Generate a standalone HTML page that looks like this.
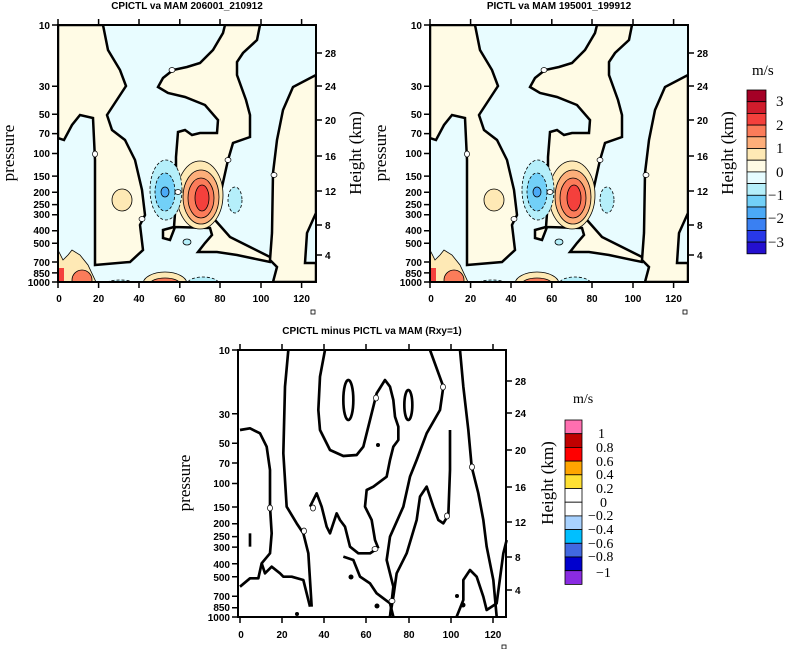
<!DOCTYPE html>
<html><head><meta charset="utf-8"><style>
html,body{margin:0;padding:0;background:#fff;}
svg{display:block;}
.t{font-family:"Liberation Sans",sans-serif;font-weight:bold;font-size:10px;fill:#000;}
.s{font-family:"Liberation Serif",serif;font-size:17px;fill:#000;}
.l{font-family:"Liberation Serif",serif;font-size:15px;fill:#000;}
</style></head><body>
<svg width="791" height="649" viewBox="0 0 791 649" xmlns="http://www.w3.org/2000/svg">
<defs>
<clipPath id="cp"><rect x="58" y="25" width="258" height="257"/></clipPath>
<g id="panel">
 <g clip-path="url(#cp)">
  <rect x="58" y="25" width="258" height="257" fill="#e8fcff"/>
  <polygon fill="#fffbe5" stroke="#000" stroke-width="2.5" points="58,25 103,25 108,50 120,70 126,86 107,115 112,130 125,140 135,160 142,190 145,215 140,225 143,250 130,262 95,265 95,160 93,118 80,115 72,125 64,140 58,138"/>
  <polygon fill="#fffbe5" stroke="#000" stroke-width="2.5" points="225,25 260,25 257,40 243,53 237,62 237,75 246,100 250,115 250,137 233,143 228,160 222,187 217,210 215,220 230,237 250,247 272,258 270,262 237,255 217,252 198,252 205,243 212,235 210,228 175,227 170,240 163,238 163,230 174,227 176,200 176,157 178,132 185,130 192,135 200,133 217,133 218,120 205,105 185,97 168,93 158,87 163,78 173,70 187,67 200,63 213,50 223,33"/>
  <polygon fill="#fffbe5" stroke="#000" stroke-width="2.5" points="316,75 293,87 283,110 277,140 273,173 272,233 270,260 277,267 273,282 316,282 316,263 305,263 307,233 316,213"/>
  <ellipse cx="122" cy="200" rx="10" ry="11" fill="#fee9b5" stroke="#000" stroke-width="0.8"/>
  <ellipse cx="200" cy="195" rx="23" ry="34" fill="#fee9b5" stroke="#000" stroke-width="0.8"/>
  <ellipse cx="201" cy="197" rx="18" ry="27" fill="#fdae7a" stroke="#000" stroke-width="0.8"/>
  <ellipse cx="201" cy="198" rx="13" ry="20" fill="#fb7c5a" stroke="#000" stroke-width="0.8"/>
  <ellipse cx="202" cy="198" rx="7" ry="13" fill="#f4403c" stroke="#000" stroke-width="0.8"/>
  <ellipse cx="166" cy="190" rx="16" ry="30" fill="#b5effa" stroke="#000" stroke-width="0.8" stroke-dasharray="3,2"/>
  <ellipse cx="165" cy="192" rx="10" ry="19" fill="#72d0f8" stroke="#000" stroke-width="0.8" stroke-dasharray="3,2"/>
  <ellipse cx="165" cy="192" rx="4" ry="5" fill="#4ba9f6" stroke="#000" stroke-width="0.8"/>
  <ellipse cx="235" cy="200" rx="7" ry="13" fill="#b5effa" stroke="#000" stroke-width="0.8" stroke-dasharray="3,2"/>
  <ellipse cx="187" cy="242" rx="4" ry="3" fill="#b5effa" stroke="#000" stroke-width="0.8"/>
  <ellipse cx="165" cy="284" rx="22" ry="12" fill="#fee9b5" stroke="#000" stroke-width="0.8"/>
  <ellipse cx="165" cy="284" rx="15" ry="6" fill="#fb7c5a" stroke="#000" stroke-width="0.8"/>
  <ellipse cx="203" cy="284" rx="16" ry="7" fill="#b5effa" stroke="#000" stroke-width="0.8" stroke-dasharray="3,2"/>
  <ellipse cx="203" cy="284" rx="8" ry="3" fill="#4ba9f6"/>
  <ellipse cx="120" cy="284" rx="15" ry="4" fill="#b5effa" stroke="#000" stroke-width="0.8" stroke-dasharray="3,2"/>
  <path d="M58,250 L63,260 L68,255 L72,250 L80,255 L88,265 L96,282 L58,282 Z" fill="#fee9b5" stroke="#000" stroke-width="0.8"/>
  <ellipse cx="82" cy="280" rx="10" ry="10" fill="#fb7c5a" stroke="#000" stroke-width="0.8"/>
  <rect x="59" y="268" width="5" height="14" fill="#f4403c"/>
 </g>
 <rect x="58" y="25" width="258" height="257" fill="none" stroke="#000" stroke-width="2"/>
 <g fill="#fff" stroke="#000" stroke-width="0.7">
  <ellipse cx="95" cy="154" rx="2.5" ry="3"/><ellipse cx="172" cy="70" rx="3" ry="2.5"/>
  <ellipse cx="228" cy="160" rx="3" ry="2.5"/><ellipse cx="274" cy="175" rx="3" ry="2.5"/>
  <ellipse cx="178" cy="192" rx="3" ry="2.5"/><ellipse cx="142" cy="219" rx="3" ry="2.5"/>
 </g>
 <g stroke="#000" stroke-width="1.5">
  <path d="M52,25h6M52,86.3h6M52,114.3h6M52,133.6h6M52,153.5h6M52,176.1h6M52,192.2h6M52,204.6h6M52,214.7h6M52,230.8h6M52,243.3h6M52,262h6M52,272.9h6M52,282h6"/>
  <path d="M316,53h6M316,86h6M316,120h6M316,156h6M316,191h6M316,225h6M316,255h6"/>
  <path d="M58,282v6M98.6,282v6M139,282v6M179.8,282v6M220,282v6M261,282v6M301.6,282v6"/>
  <path d="M58,25v-6M98.6,25v-6M139,25v-6M179.8,25v-6M220,25v-6M261,25v-6M301.6,25v-6"/>
 </g>
 <g class="t" text-anchor="end">
  <text x="50" y="29">10</text><text x="50" y="90">30</text><text x="50" y="118">50</text><text x="50" y="137">70</text><text x="50" y="157">100</text><text x="50" y="180">150</text><text x="50" y="196">200</text><text x="50" y="208">250</text><text x="50" y="218">300</text><text x="50" y="234">400</text><text x="50" y="247">500</text><text x="50" y="266">700</text><text x="50" y="277">850</text><text x="50" y="286">1000</text>
 </g>
 <g class="t">
  <text x="325" y="57">28</text><text x="325" y="90">24</text><text x="325" y="124">20</text><text x="325" y="160">16</text><text x="325" y="195">12</text><text x="325" y="229">8</text><text x="325" y="259">4</text>
 </g>
 <g class="t" text-anchor="middle">
  <text x="59" y="302">0</text><text x="98.6" y="302">20</text><text x="139" y="302">40</text><text x="179.8" y="302">60</text><text x="220" y="302">80</text><text x="261" y="302">100</text><text x="301.6" y="302">120</text>
 </g>
 <rect x="311" y="310" width="4" height="4" fill="none" stroke="#000" stroke-width="0.8"/>
 <text class="s" transform="translate(361,153) rotate(-90)" text-anchor="middle">Height (km)</text>
</g>
</defs>

<use href="#panel"/>
<use href="#panel" transform="translate(372,0)"/>
<text class="s" transform="translate(14,153) rotate(-90)" text-anchor="middle">pressure</text>
<text class="s" transform="translate(386,153) rotate(-90)" text-anchor="middle">pressure</text>
<text class="t" x="187" y="9" text-anchor="middle">CPICTL va MAM 206001_210912</text>
<text class="t" x="559" y="9" text-anchor="middle">PICTL va MAM 195001_199912</text>

<g stroke="#000" stroke-width="0.8">
 <rect x="747" y="90" width="19" height="11.7" fill="#a50026"/>
 <rect x="747" y="101.7" width="19" height="11.7" fill="#d01c2c"/>
 <rect x="747" y="113.4" width="19" height="11.7" fill="#f4403c"/>
 <rect x="747" y="125.1" width="19" height="11.7" fill="#fb7c5a"/>
 <rect x="747" y="136.8" width="19" height="11.7" fill="#fdae7a"/>
 <rect x="747" y="148.5" width="19" height="11.7" fill="#fee9b5"/>
 <rect x="747" y="160.2" width="19" height="11.7" fill="#fffbe5"/>
 <rect x="747" y="171.9" width="19" height="11.7" fill="#e6fcff"/>
 <rect x="747" y="183.6" width="19" height="11.7" fill="#b5effa"/>
 <rect x="747" y="195.3" width="19" height="11.7" fill="#72d0f8"/>
 <rect x="747" y="207" width="19" height="11.7" fill="#4ba9f6"/>
 <rect x="747" y="218.7" width="19" height="11.7" fill="#3a80f2"/>
 <rect x="747" y="230.4" width="19" height="11.7" fill="#2838e8"/>
 <rect x="747" y="242.1" width="19" height="11.7" fill="#2410d0"/>
</g>
<g class="l">
 <text x="752" y="75">m/s</text>
 <text x="776" y="106">3</text><text x="776" y="130">2</text><text x="776" y="153">1</text><text x="776" y="177">0</text>
 <text x="768" y="200">−1</text><text x="768" y="223">−2</text><text x="768" y="247">−3</text>
</g>

<text class="t" x="372" y="334" text-anchor="middle">CPICTL minus PICTL va MAM (Rxy=1)</text>
<rect x="238" y="350" width="268" height="267" fill="#fff" stroke="#000" stroke-width="2"/>
<g transform="translate(230,320) scale(0.33333)" fill="none" stroke="#000" stroke-width="8" stroke-linejoin="round">
 <polyline points="175,90 165,200 160,400 170,560 200,610 220,640 235,700 240,780 245,860"/>
 <polyline points="285,90 270,170 265,270 270,330 300,390 340,408 380,405 400,380 420,300 440,220 465,180 480,200 490,240 495,290 505,320 505,360 490,380 480,420 470,470 430,500 410,510 405,560 425,600 435,660 445,685"/>
 <polyline points="30,330 60,325 90,340 110,380 120,450 120,560 125,640 120,700 95,730 85,775 60,775 30,800"/>
 <polyline points="95,730 105,760 125,740 150,760 160,770 185,770 220,780 240,860"/>
 <polyline points="240,560 260,520 275,560 290,620 300,640 320,580 330,600 345,620 360,680 385,700 420,700 435,690"/>
 <polyline points="600,90 640,200 630,270 590,340 560,420 540,470 520,560 480,650 470,720 490,800 480,890"/>
 <polyline points="690,90 700,200 715,330 725,440 745,520 760,600 770,680 790,780 800,890"/>
 <polyline points="660,330 660,450 655,585 640,610 625,600 610,560 590,500 570,530 560,600 530,700 500,760 490,830 480,890"/>
 <polyline points="680,890 700,840 700,780 720,750 740,770 760,830 770,870 800,850 820,700 830,660"/>
 <polyline points="340,710 370,720 390,770 420,790 440,820 480,850 490,890"/>
 <ellipse cx="355" cy="240" rx="15" ry="60"/>
 <ellipse cx="535" cy="255" rx="12" ry="45"/>
 <line x1="60" y1="640" x2="60" y2="680"/>
</g>
<g fill="#000"><circle cx="351" cy="577" r="2.5"/><circle cx="377" cy="606" r="2.5"/><circle cx="457" cy="596" r="2"/><circle cx="463" cy="605" r="2.5"/><circle cx="378" cy="445" r="2"/><circle cx="297" cy="614" r="2"/></g>
<g fill="#fff" stroke="#000" stroke-width="0.7">
 <ellipse cx="270" cy="508" rx="2.5" ry="3"/><ellipse cx="304" cy="531" rx="2.5" ry="3"/><ellipse cx="313" cy="508" rx="2.5" ry="3"/><ellipse cx="375" cy="549" rx="3" ry="2.5"/><ellipse cx="376" cy="398" rx="2.5" ry="3"/><ellipse cx="392" cy="601" rx="3" ry="2.5"/><ellipse cx="447" cy="516" rx="2.5" ry="3"/><ellipse cx="443" cy="387" rx="2.5" ry="3"/><ellipse cx="472" cy="467" rx="2.5" ry="3"/>
</g>
<g stroke="#000" stroke-width="1.5">
 <path d="M232,350h6M232,413.7h6M232,443.3h6M232,463h6M232,483.5h6M232,507h6M232,523.7h6M232,536.6h6M232,547.1h6M232,563.8h6M232,576.7h6M232,596.3h6M232,607.7h6M232,617h6"/>
 <path d="M506,381h6M506,413h6M506,450h6M506,487h6M506,522h6M506,557h6M506,590h6"/>
 <path d="M240,617v6M282,617v6M324,617v6M366,617v6M409,617v6M451,617v6M493,617v6"/>
 <path d="M240,350v-6M282,350v-6M324,350v-6M366,350v-6M409,350v-6M451,350v-6M493,350v-6"/>
</g>
<g class="t" text-anchor="end">
 <text x="230" y="354">10</text><text x="230" y="418">30</text><text x="230" y="447">50</text><text x="230" y="467">70</text><text x="230" y="487">100</text><text x="230" y="511">150</text><text x="230" y="527">200</text><text x="230" y="540">250</text><text x="230" y="551">300</text><text x="230" y="568">400</text><text x="230" y="581">500</text><text x="230" y="600">700</text><text x="230" y="611">850</text><text x="230" y="621">1000</text>
</g>
<g class="t">
 <text x="515" y="385">28</text><text x="515" y="417">24</text><text x="515" y="454">20</text><text x="515" y="491">16</text><text x="515" y="526">12</text><text x="515" y="561">8</text><text x="515" y="594">4</text>
</g>
<g class="t" text-anchor="middle">
 <text x="241" y="638">0</text><text x="282" y="638">20</text><text x="324" y="638">40</text><text x="366" y="638">60</text><text x="409" y="638">80</text><text x="451" y="638">100</text><text x="493" y="638">120</text>
</g>
<rect x="502" y="645" width="4" height="4" fill="none" stroke="#000" stroke-width="0.8"/>
<text class="s" transform="translate(190,483) rotate(-90)" text-anchor="middle">pressure</text>
<text class="s" transform="translate(553,483) rotate(-90)" text-anchor="middle">Height (km)</text>

<g stroke="#000" stroke-width="0.8">
 <rect x="565" y="420" width="17" height="13.7" fill="#ff6fb0"/>
 <rect x="565" y="433.7" width="17" height="13.7" fill="#c00000"/>
 <rect x="565" y="447.4" width="17" height="13.7" fill="#ff0000"/>
 <rect x="565" y="461.1" width="17" height="13.7" fill="#ffa500"/>
 <rect x="565" y="474.8" width="17" height="13.7" fill="#ffe033"/>
 <rect x="565" y="488.5" width="17" height="13.7" fill="#ffffff"/>
 <rect x="565" y="502.2" width="17" height="13.7" fill="#ffffff"/>
 <rect x="565" y="515.9" width="17" height="13.7" fill="#a8d2ff"/>
 <rect x="565" y="529.6" width="17" height="13.7" fill="#00bfff"/>
 <rect x="565" y="543.3" width="17" height="13.7" fill="#4169e1"/>
 <rect x="565" y="557" width="17" height="13.7" fill="#0000cd"/>
 <rect x="565" y="570.7" width="17" height="13.7" fill="#8a2be2"/>
</g>
<g class="l" style="font-size:14px">
 <text x="573" y="403">m/s</text>
 <text x="598" y="438">1</text><text x="596" y="452">0.8</text><text x="596" y="466">0.6</text><text x="596" y="479">0.4</text><text x="596" y="493">0.2</text><text x="600" y="507">0</text>
 <text x="588" y="520">−0.2</text><text x="588" y="534">−0.4</text><text x="588" y="548">−0.6</text><text x="588" y="561">−0.8</text><text x="596" y="577">−1</text>
</g>
</svg>
</body></html>
